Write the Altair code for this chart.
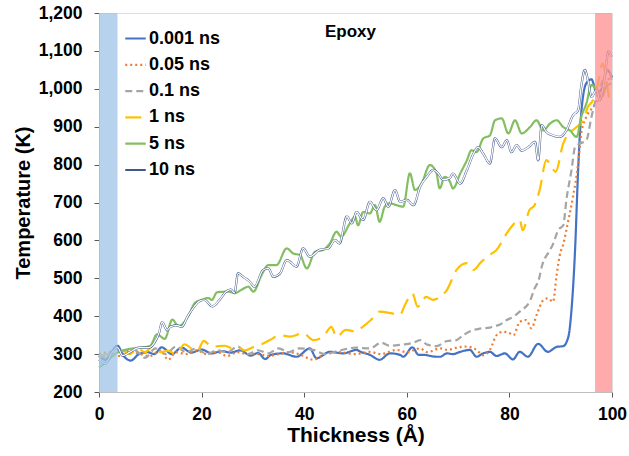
import altair as alt
import pandas as pd

series_names = ["0.001 ns", "0.05 ns", "0.1 ns", "1 ns", "5 ns", "10 ns"]
series_colors = ["#4472C4", "#ED7D31", "#A5A5A5", "#FFC000", "#84BE63", "#40578A"]
series_dash = [[1, 0], [2, 3], [7, 4], [16, 8], [1, 0], [1, 0]]
series_width = [2.2, 2.2, 2.6, 2.6, 2.6, 4.2]

x_001 = [0, 1.2, 2.4, 3.6, 4.8, 6.2, 7.8, 9.5, 10.8, 12.2, 14.2, 16.1, 18, 20, 22, 24, 25.7, 27.5, 29.6, 31, 32.4, 33.5,
         35.9, 38.5, 41.1, 42.4, 45, 47.6, 50.2, 51, 52.8, 54.7, 56.7, 58.7, 59.3, 61.1, 62.3, 63.2, 65.8, 66.5, 67.8, 69,
         70.4, 72.3, 73.6, 74.9, 76.2, 77.5, 79.1, 80.7, 82, 83.6, 85.6, 87.5, 89.2, 90.5, 91.5, 92.1, 92.8, 93.4, 94,
         95, 96, 97, 98, 99, 100]
t_001 = [296, 285, 305, 322, 295, 283, 300, 305, 300, 318, 300, 317, 304, 312, 302, 308, 304, 310, 296, 303, 287, 298,
         302, 293, 315, 289, 306, 302, 311, 306, 298, 285, 302, 298, 293, 318, 298, 298, 293, 293, 302, 300,
         306, 311, 293, 302, 306, 295, 302, 286, 306, 293, 327, 306, 319, 321, 346, 416, 575, 786, 935,
         1015, 1025, 990, 1000, 1050, 1030]

x_005 = [0, 2, 4, 6, 8, 10, 12, 13.5, 15, 17, 19, 21, 23, 25, 27, 29, 31, 33, 35, 37, 39, 41.8, 44, 47, 50, 52.8, 55,
         58, 60, 62.6, 64, 66.5, 68, 70, 71.7, 73.6, 74.9, 76.2, 77.5, 78.8, 80.1, 80.8, 82, 83.3, 84.3, 85.3, 86.6,
         87.5, 88.5, 89.2, 89.8, 90.5, 91.5, 92.4, 93.4, 94, 95, 96.3, 97.6, 98.6, 99.6]
t_005 = [300, 305, 295, 310, 300, 295, 310, 285, 305, 300, 310, 300, 305, 295, 305, 300, 300, 295, 300, 305, 300, 285,
         300, 305, 300, 306, 300, 311, 305, 315, 305, 315, 311, 318, 320, 311, 297, 311, 350, 359, 355, 350, 385, 390,
         368, 403, 442, 447, 438, 508, 560, 590, 654, 715, 803, 882, 926, 952, 979, 1006, 1032]

x_01 = [0, 1.5, 3, 5, 7, 9, 11, 13, 15, 17, 19, 21, 23, 25, 27, 29, 31, 33, 35, 37, 39, 41.8, 44, 47, 50, 52.8, 55,
        56.7, 59, 61.3, 62.6, 64, 65.8, 67.7, 69.7, 71, 72.9, 74.2, 76.2, 77.5, 78.2, 79.5, 80.7, 82, 84.1, 84.8, 85.7,
        86.4, 87.7, 88.5, 89.5, 90.5, 91.1, 92.1, 92.8, 93.7, 95, 96, 97, 98.2, 99.3, 99.9]
t_01 = [300, 290, 315, 300, 310, 290, 315, 300, 320, 305, 315, 300, 310, 305, 320, 300, 310, 302, 315, 305, 315, 311,
        300, 310, 317, 315, 330, 322, 325, 330, 337, 325, 321, 334, 337, 350, 363, 367, 370, 375, 378, 390, 398, 412,
        443, 470, 495, 535, 570, 590, 627, 640, 706, 785, 846, 855, 864, 926, 979, 1023, 1050, 1023]

x_1 = [0, 1.5, 3, 4.5, 6, 7.5, 9, 10.5, 12, 13.4, 15, 16.7, 18, 19.2, 20.4, 22, 24.5, 26, 27, 28.5, 30, 31.5, 33.3,
       35.3, 37.2, 39.8, 41.8, 43.7, 45.3, 46.3, 48.1, 50, 51.4, 53, 54.7, 56.9, 58.6, 59.8, 61.1, 62.1, 63.8, 65.1,
       66.4, 67.8, 69.7, 71.7, 73, 74.3, 76.2, 77.5, 79.5, 80.4, 82, 82.6, 83.9, 84.9, 85.9, 87.2, 87.8, 89, 90.5,
       91.1, 93.1, 94.4, 95.3, 96.3, 97.2, 98.2, 98.9, 99.6, 100]
t_1 = [290, 300, 295, 310, 300, 315, 305, 322, 305, 309, 300, 326, 315, 309, 335, 320, 322, 315, 317, 310, 318, 325,
       337, 350, 346, 355, 337, 346, 372, 345, 364, 360, 372, 390, 412, 408, 403, 434, 460, 425, 451, 443, 450, 469,
       522, 540, 522, 540, 562, 575, 619, 636, 654, 627, 680, 693, 733, 812, 804, 781, 856, 873, 899, 917, 952, 970,
       1010, 1067, 1023, 970, 980]

x_5 = [0, 1.5, 3.1, 5.7, 8.3, 10, 11.3, 11.9, 12.8, 14.3, 15.5, 17.4, 18.7, 20, 21.3, 22, 23, 25.2, 26.5, 27.8, 29.1,
       30.1, 31.7, 33, 34.6, 36.6, 37.8, 39.2, 40.5, 42.1, 43.7, 45, 46.3, 47.2, 48.9, 49.9, 50.5, 51.5, 52.8, 53.8,
       54.7, 55.7, 56.7, 58, 59.3, 60.6, 61.6, 62.9, 64.5, 65.8, 66.4, 67.4, 68.4, 69, 70.4, 71.7, 72.6, 73.6, 74.9,
       76.2, 77.2, 78.5, 79.8, 81.1, 82.4, 84, 85.3, 86.6, 87.9, 89.2, 90.5, 91.8, 93.1, 94, 95, 96, 97, 98, 98.9,
       99.9]
t_5 = [265, 280, 300, 313, 317, 322, 352, 348, 340, 391, 374, 400, 435, 443, 448, 443, 463, 465, 461, 470, 478,
       465, 509, 535, 535, 579, 566, 561, 526, 570, 575, 592, 623, 610, 645, 663, 640, 675, 671, 693,
       649, 689, 698, 693, 689, 777, 733, 751, 799, 777, 737, 768, 755, 737, 776, 811, 838, 833, 869,
       877, 917, 922, 882, 917, 882, 899, 917, 890, 908, 917, 899, 890, 873, 926, 961, 1010, 997, 979, 1006,
       1014]

x_10 = [0, 1.2, 2.6, 3.6, 4.6, 6, 7.8, 9.7, 10.7, 11.7, 12.3, 13.3, 13.9, 15.2, 16.1, 17.3, 18.6, 19.5, 20.5, 22.1,
        23.5, 24.8, 25.7, 26.4, 27.1, 28.1, 29.4, 30.3, 32, 33, 34, 35.3, 36.6, 38.5, 39.8, 41.1, 43, 44.7, 46, 46.9,
        48.3, 49.3, 50.2, 51.5, 52.8, 54.1, 55.4, 56.4, 57.7, 58.7, 60, 61.3, 62.6, 63.9, 65.2, 66.1, 67.1, 68.4, 69,
        70.4, 71.7, 73, 73.9, 74.9, 76.2, 77.2, 78.5, 79.5, 80.4, 81.4, 82.4, 83.7, 85, 85.6, 86.3, 87.2, 88.5, 89.8,
        91.1, 92.4, 93.4, 94, 94.7, 95.3, 96, 97, 97.6, 98.6, 99.3, 99.9]
t_10 = [285, 275, 305, 318, 296, 305, 317, 317, 328, 356, 384, 363, 372, 376, 372, 400, 426, 439, 443, 426,
        443, 465, 470, 461, 513, 504, 491, 478, 522, 526, 504, 513, 548, 531, 579, 557, 575, 579, 601, 592,
        663, 645, 675, 654, 702, 680, 711, 689, 733, 702, 707, 693, 742, 768, 786, 777, 760, 765, 776,
        750, 785, 829, 846, 829, 803, 869, 846, 864, 833, 851, 837, 846, 860, 811, 904, 886, 877, 873,
        890, 930, 944, 1006, 1050, 1023, 979, 997, 970, 1032, 1098, 1085]

band_start = [0, 96.7]
band_end = [3.6, 100]
band_low = [200, 200]
band_high = [1200, 1200]
band_colors = ["#9DC3E6", "#FF8F8F"]

x_ticks = [0, 20, 40, 60, 80, 100]
y_ticks = [200, 300, 400, 500, 600, 700, 800, 900, 1000, 1100, 1200]

xs = [x_001, x_005, x_01, x_1, x_5, x_10]
ts = [t_001, t_005, t_01, t_1, t_5, t_10]
frames = []
for i, (name, xv, tv) in enumerate(zip(series_names, xs, ts)):
    frames.append(pd.DataFrame({"series": name, "order": i, "x": xv, "T": tv}))
df = pd.concat(frames, ignore_index=True)

bands = pd.DataFrame({"x1": band_start, "x2": band_end, "y1": band_low, "y2": band_high})

FONT = "Liberation Sans"

xscale = alt.Scale(domain=[0, 100], nice=False)
yscale = alt.Scale(domain=[200, 1200], nice=False)


def xaxis():
    return alt.Axis(values=x_ticks, title="Thickness (Å)", grid=False, tickSize=5, labelPadding=8,
                    titlePadding=2, labelFontSize=17.5, titleFontSize=21, labelFont=FONT, titleFont=FONT,
                    labelFontWeight="bold", titleFontWeight="bold", labelColor="black", titleColor="black",
                    domainColor="#BFBFBF", tickColor="#595959", labelFlush=False, labelOverlap=False,
                    format="d")


def yaxis():
    return alt.Axis(values=y_ticks, title="Temperature (K)", grid=False, tickSize=5, labelPadding=12,
                    titlePadding=5, labelFontSize=17.5, titleFontSize=20, labelFont=FONT, titleFont=FONT,
                    labelFontWeight="bold", titleFontWeight="bold", labelColor="black", titleColor="black",
                    domainColor="#BFBFBF", tickColor="#595959", format=",d", formatType="number",
                    labelOverlap=False)


def legend():
    return alt.Legend(title=None, orient="none", legendX=25, legendY=14,
                      symbolType="stroke", symbolSize=420, labelFontSize=18,
                      labelFont=FONT, labelFontWeight="bold", labelColor="black",
                      rowPadding=5.3, labelOffset=2, padding=0)


base = alt.Chart(df)

lines = base.mark_line(interpolate="monotone", strokeCap="butt", strokeJoin="round").encode(
    x=alt.X("x:Q", scale=xscale, axis=xaxis()),
    y=alt.Y("T:Q", scale=yscale, axis=yaxis()),
    color=alt.Color("series:N", scale=alt.Scale(domain=series_names, range=series_colors), legend=legend()),
    strokeDash=alt.StrokeDash("series:N", scale=alt.Scale(domain=series_names, range=series_dash), legend=legend()),
    strokeWidth=alt.StrokeWidth("series:N", scale=alt.Scale(domain=series_names, range=series_width), legend=legend()),
    order=alt.Order("x:Q"),
    detail="series:N",
)

inner = base.transform_filter(alt.datum.series == "10 ns").mark_line(
    interpolate="monotone", color="white", strokeWidth=1.3
).encode(x=alt.X("x:Q", scale=xscale, axis=xaxis()), y=alt.Y("T:Q", scale=yscale, axis=yaxis()),
         order=alt.Order("x:Q"))

band_layers = []
for i in range(len(band_start)):
    band_layers.append(
        alt.Chart(bands.iloc[[i]]).mark_rect(opacity=0.75, color=band_colors[i]).encode(
            x=alt.X("x1:Q", scale=xscale, axis=xaxis()), x2="x2:Q",
            y=alt.Y("y1:Q", scale=yscale, axis=yaxis()), y2="y2:Q",
        )
    )

chart = alt.layer(lines, inner, *band_layers).properties(
    width=513, height=379,
    title=alt.TitleParams(text="Epoxy", fontSize=17, font=FONT, fontWeight="bold", color="black",
                          anchor="middle", offset=0, dy=37, dx=-5),
    autosize=alt.AutoSizeParams(type="none"),
    padding={"left": 99, "top": 13, "right": 17, "bottom": 64},
).configure_view(stroke="#BFBFBF", strokeWidth=1).configure(background="white")

chart.save("out.html", embed_options={"renderer": "svg", "actions": False})
